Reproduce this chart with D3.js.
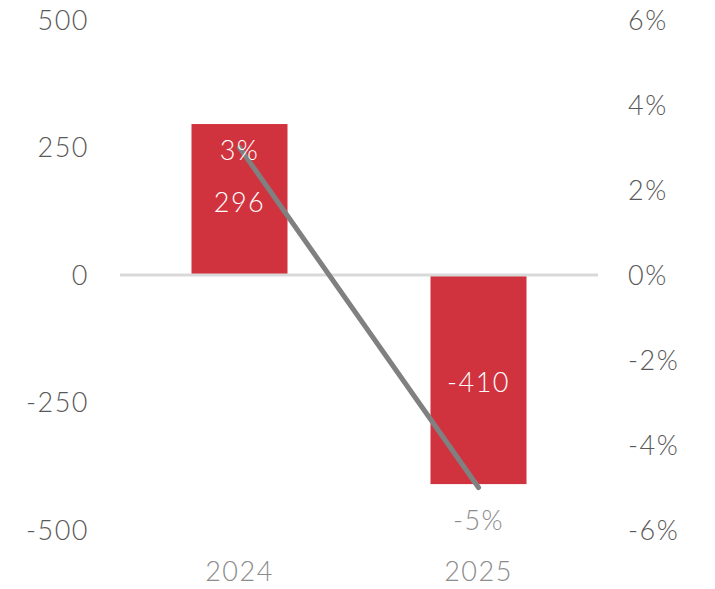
<!DOCTYPE html>
<html><head><meta charset="utf-8">
<script src="https://cdn.jsdelivr.net/npm/d3@7"></script>
<style>
html,body{margin:0;padding:0;background:#fff;}
svg text{font-family:Lato,"Open Sans",sans-serif;font-weight:300;letter-spacing:1.5px;}
</style></head>
<body><svg id="chart" width="715" height="589"></svg>
<script>
const categories = ["2024", "2025"];
const barValues = [296, -410];
const pctValues = [0.03, -0.05];
const leftTicks = [500, 250, 0, -250, -500];
const rightTicks = [0.06, 0.04, 0.02, 0, -0.02, -0.04, -0.06];

const hy = (f) => (v) => f(v).replace("\u2212", "-");
const fmtNum = hy(d3.format("d"));
const fmtPct = hy(d3.format(".0%"));

const svg = d3.select("#chart");
const x = d3.scaleBand().domain(categories).range([120, 598]).paddingInner(0).paddingOuter(0);
const y = d3.scaleLinear().domain([-500, 500]).range([530, 20]);
const y2 = d3.scaleLinear().domain([-0.06, 0.06]).range([530, 20]);
const barW = 96;

const la = svg.append("g").attr("transform", "translate(89,0)")
  .call(d3.axisLeft(y).tickValues(leftTicks).tickSize(0).tickPadding(0).tickFormat(fmtNum));
la.select(".domain").remove();
la.selectAll("text").attr("fill", "#595959").attr("font-size", 27).attr("dy", "0.35em");

const ra = svg.append("g").attr("transform", "translate(628,0)")
  .call(d3.axisRight(y2).tickValues(rightTicks).tickSize(0).tickPadding(0).tickFormat(fmtPct));
ra.select(".domain").remove();
ra.selectAll("text").attr("fill", "#595959").attr("font-size", 27).attr("dy", "0.35em");

svg.append("g").selectAll("rect").data(categories).join("rect")
  .attr("x", (d) => x(d) + x.bandwidth()/2 - barW/2)
  .attr("width", barW)
  .attr("y", (d, i) => y(Math.max(0, barValues[i])))
  .attr("height", (d, i) => Math.abs(y(barValues[i]) - y(0)))
  .attr("fill", "#D0333D");

svg.append("line").attr("x1", 120).attr("x2", 598).attr("y1", y(0)).attr("y2", y(0))
  .attr("stroke", "#d9d9d9").attr("stroke-width", 3);

svg.append("g").selectAll("text").data(categories).join("text")
  .attr("x", (d) => x(d) + x.bandwidth()/2)
  .attr("y", (d, i) => (y(barValues[i]) + y(0))/2 + 3)
  .attr("text-anchor", "middle").attr("dy", "0.35em")
  .attr("font-size", 27).attr("fill", "#ffffff")
  .text((d, i) => fmtNum(barValues[i]));

const line = d3.line().x((d, i) => x(categories[i]) + x.bandwidth()/2).y((d) => y2(d));
svg.append("path").datum(pctValues).attr("d", line)
  .attr("fill", "none").attr("stroke", "#808080").attr("stroke-width", 5)
  .attr("stroke-linecap", "round");

svg.append("g").selectAll("text").data(pctValues).join("text")
  .attr("x", (d, i) => x(categories[i]) + x.bandwidth()/2)
  .attr("y", (d) => d >= 0 ? y2(d) + 3 : y2(d) + 33)
  .attr("text-anchor", "middle").attr("dy", "0.35em")
  .attr("font-size", 27)
  .attr("fill", (d) => d >= 0 ? "#ffffff" : "#8c8c8c")
  .text((d) => fmtPct(d));

svg.append("g").selectAll("text").data(categories).join("text")
  .attr("x", (d) => x(d) + x.bandwidth()/2)
  .attr("y", 572).attr("dy", "0.35em")
  .attr("text-anchor", "middle").attr("font-size", 27).attr("fill", "#8c8c8c")
  .text((d) => d);
</script></body></html>
